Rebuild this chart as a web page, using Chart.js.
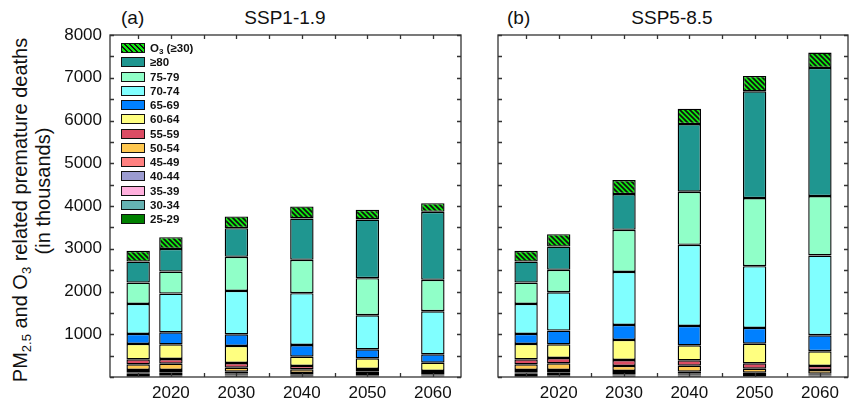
<!DOCTYPE html>
<html>
<head>
<meta charset="utf-8">
<script src="https://cdn.jsdelivr.net/npm/chart.js@4.4.0/dist/chart.umd.min.js"></script>
<style>
  body { margin: 0; background: #fff; font-family: "Liberation Sans", Arial, sans-serif; }
  #page { position: relative; width: 851px; height: 402px; overflow: hidden; }
  .panel { position: absolute; top: 0; }
  .title { position: absolute; top: 7px; font-size: 19px; line-height: 22px; color: #111; white-space: nowrap; }
  .ylab { position: absolute; width: 400px; height: 24px; line-height: 24px; text-align: center;
          font-size: 20px; color: #111; transform: rotate(-90deg); white-space: nowrap; }
  .ylab sub { font-size: 13px; line-height: 0; vertical-align: -4px; }
  #legend { position: absolute; left: 121px; top: 41px; font-size: 11.5px; font-weight: bold; color: #111; }
  .row { position: relative; height: 14.25px; width: 100px; }
  .sw { position: absolute; left: 0; top: 2px; width: 22px; height: 8px; border: 1px solid #111; }
  .lt { position: absolute; left: 29px; top: 0; line-height: 14px; white-space: nowrap; }
  .lt sub { font-size: 8px; line-height: 0; vertical-align: -2px; }
</style>
</head>
<body>
<div id="page">
  <div class="title" style="left:121px">(a)</div>
  <div class="title" style="left:285px; transform:translateX(-50%)">SSP1-1.9</div>
  <div class="title" style="left:507px">(b)</div>
  <div class="title" style="left:672px; transform:translateX(-50%)">SSP5-8.5</div>

  <div class="ylab" style="left:-180px; top:198px">PM<sub>2.5</sub> and O<sub>3</sub> related premature deaths</div>
  <div class="ylab" style="left:-157px; top:179px">(in thousands)</div>

  <div class="panel" style="left:40px"><canvas id="chartA" width="430" height="402"></canvas></div>
  <div class="panel" style="left:480px"><canvas id="chartB" width="371" height="402"></canvas></div>
  <div id="legend"></div>
</div>
<script>
// years of the bars, and labelled x ticks
const years = [2015, 2020, 2030, 2040, 2050, 2060];
const xTickLabels = [2020, 2030, 2040, 2050, 2060];
const groups = ['25-29', '30-34', '35-39', '40-44', '45-49', '50-54', '55-59',
                '60-64', '65-69', '70-74', '75-79', '≥80', 'O3 (≥30)'];

// SSP1-1.9, deaths in thousands (bottom to top of the stack)
const ssp119_25 = [19, 17, 15, 10, 7, 6];
const ssp119_30 = [25, 22, 18, 13, 10, 7];
const ssp119_35 = [30, 30, 22, 17, 13, 9];
const ssp119_40 = [40, 40, 30, 24, 18, 12];
const ssp119_45 = [50, 55, 40, 30, 22, 16];
const ssp119_50 = [133, 148, 94, 86, 55, 44];
const ssp119_55 = [117, 109, 109, 78, 62, 46];
const ssp119_60 = [359, 344, 398, 218, 250, 195];
const ssp119_65 = [234, 281, 273, 273, 211, 196];
const ssp119_70 = [703, 905, 1015, 1211, 796, 1007];
const ssp119_75 = [498, 515, 796, 780, 867, 734];
const ssp119_80 = [492, 531, 672, 968, 1373, 1592];
const ssp119_o3 = [251, 274, 273, 281, 227, 202];

// SSP5-8.5
const ssp585_25 = [19, 17, 16, 15, 12, 9];
const ssp585_30 = [25, 22, 20, 18, 14, 11];
const ssp585_35 = [30, 30, 26, 22, 18, 14];
const ssp585_40 = [40, 40, 34, 30, 25, 19];
const ssp585_45 = [50, 55, 45, 40, 33, 25];
const ssp585_50 = [133, 156, 117, 140, 93, 86];
const ssp585_55 = [117, 125, 140, 125, 125, 94];
const ssp585_60 = [359, 320, 469, 352, 460, 344];
const ssp585_65 = [234, 320, 351, 452, 368, 375];
const ssp585_70 = [703, 898, 1241, 1897, 1445, 1865];
const ssp585_75 = [498, 523, 984, 1242, 1592, 1390];
const ssp585_80 = [492, 546, 835, 1584, 2497, 2997];
const ssp585_o3 = [251, 289, 328, 359, 360, 359];

const ssp119 = [ssp119_25, ssp119_30, ssp119_35, ssp119_40, ssp119_45, ssp119_50, ssp119_55,
                ssp119_60, ssp119_65, ssp119_70, ssp119_75, ssp119_80, ssp119_o3];
const ssp585 = [ssp585_25, ssp585_30, ssp585_35, ssp585_40, ssp585_45, ssp585_50, ssp585_55,
                ssp585_60, ssp585_65, ssp585_70, ssp585_75, ssp585_80, ssp585_o3];

const FONT = '"Liberation Sans", Arial, sans-serif';
const HATCH_GREEN = '#10e810';
const colors = ['#008000', '#66b2b2', '#ffb0dd', '#9b9bd0', '#ff8080', '#ffc850', '#dc4c64',
                '#ffff80', '#0080ff', '#80ffff', '#90ffc8', '#1f9690'];

// green with black diagonal stripes for the ozone part
function hatchPattern() {
  const s = 5;
  const c = document.createElement('canvas');
  c.width = c.height = s;
  const g = c.getContext('2d');
  g.fillStyle = HATCH_GREEN;
  g.fillRect(0, 0, s, s);
  g.strokeStyle = '#111';
  g.lineWidth = 1.7;
  g.beginPath();
  for (const k of [-1, 0, 1]) {
    g.moveTo(-s, -s + k * s);
    g.lineTo(2 * s, 2 * s + k * s);
  }
  g.stroke();
  return g.createPattern(c, 'repeat');
}
const hatch = hatchPattern();

// box around the plot with inward tick marks on all sides
const frameTicks = {
  id: 'frameTicks',
  afterDatasetsDraw(chart) {
    const { ctx, chartArea: a, scales: { x, y } } = chart;
    ctx.save();
    ctx.strokeStyle = '#333';
    ctx.lineWidth = 1.3;
    ctx.beginPath();
    y.ticks.forEach(t => {
      const py = Math.round(y.getPixelForValue(t.value)) + 0.5;
      ctx.moveTo(a.left, py); ctx.lineTo(a.left + 4, py);
      ctx.moveTo(a.right, py); ctx.lineTo(a.right - 4, py);
    });
    x.ticks.forEach(t => {
      const px = Math.round(x.getPixelForValue(t.value)) + 0.5;
      ctx.moveTo(px, a.bottom); ctx.lineTo(px, a.bottom - 4);
      ctx.moveTo(px, a.top); ctx.lineTo(px, a.top + 4);
    });
    ctx.stroke();
    ctx.strokeRect(a.left, a.top, a.right - a.left, a.bottom - a.top);
    ctx.restore();
  }
};

function makeChart(id, series, yWidth, padRight, showY) {
  const datasets = series.map((vals, i) => ({
    label: groups[i],
    data: years.map((yr, j) => ({ x: yr, y: vals[j] })),
    backgroundColor: i < colors.length ? colors[i] : hatch
  }));
  return new Chart(document.getElementById(id), {
    type: 'bar',
    data: { datasets: datasets },
    options: {
      responsive: false,
      animation: false,
      layout: { padding: { top: 35, right: padRight, left: 0, bottom: 0 } },
      plugins: { legend: { display: false }, tooltip: { enabled: false } },
      datasets: {
        bar: { categoryPercentage: 1, barPercentage: 0.715, borderWidth: 1.4, borderColor: '#000', borderSkipped: false }
      },
      scales: {
        x: {
          type: 'linear', stacked: true, offset: false, min: 2010.7, max: 2064.3,
          grid: { display: false, drawTicks: false }, border: { display: false },
          afterFit: s => { s.height = 25; },
          ticks: {
            stepSize: 5, includeBounds: false, autoSkip: false, maxRotation: 0, padding: 6,
            color: '#111', font: { size: 17, family: FONT },
            callback: v => xTickLabels.includes(v) ? String(v) : ''
          }
        },
        y: {
          stacked: true, min: 0, max: 8000,
          grid: { display: false, drawTicks: false }, border: { display: false },
          afterFit: s => { s.width = yWidth; },
          ticks: {
            stepSize: 500, autoSkip: false, padding: 8,
            color: '#111', font: { size: 17, family: FONT },
            callback: v => (showY && v > 0 && v % 1000 === 0) ? String(v) : ''
          }
        }
      }
    },
    plugins: [frameTicks]
  });
}

makeChart('chartA', ssp119, 70, 9, true);
makeChart('chartB', ssp585, 18, 3, false);

// legend inside panel (a), top entry first
const legend = document.getElementById('legend');
for (let i = groups.length - 1; i >= 0; i--) {
  const row = document.createElement('div');
  row.className = 'row';
  const sw = document.createElement('div');
  sw.className = 'sw';
  if (i < colors.length) {
    sw.style.background = colors[i];
  } else {
    sw.style.background = 'repeating-linear-gradient(45deg, #111 0 1.3px, ' + HATCH_GREEN + ' 1.3px 3.5px)';
  }
  const lt = document.createElement('div');
  lt.className = 'lt';
  if (groups[i].startsWith('O3')) {
    lt.innerHTML = 'O<sub>3</sub> (≥30)';
  } else {
    lt.textContent = groups[i];
  }
  row.appendChild(sw);
  row.appendChild(lt);
  legend.appendChild(row);
}
</script>
</body>
</html>
